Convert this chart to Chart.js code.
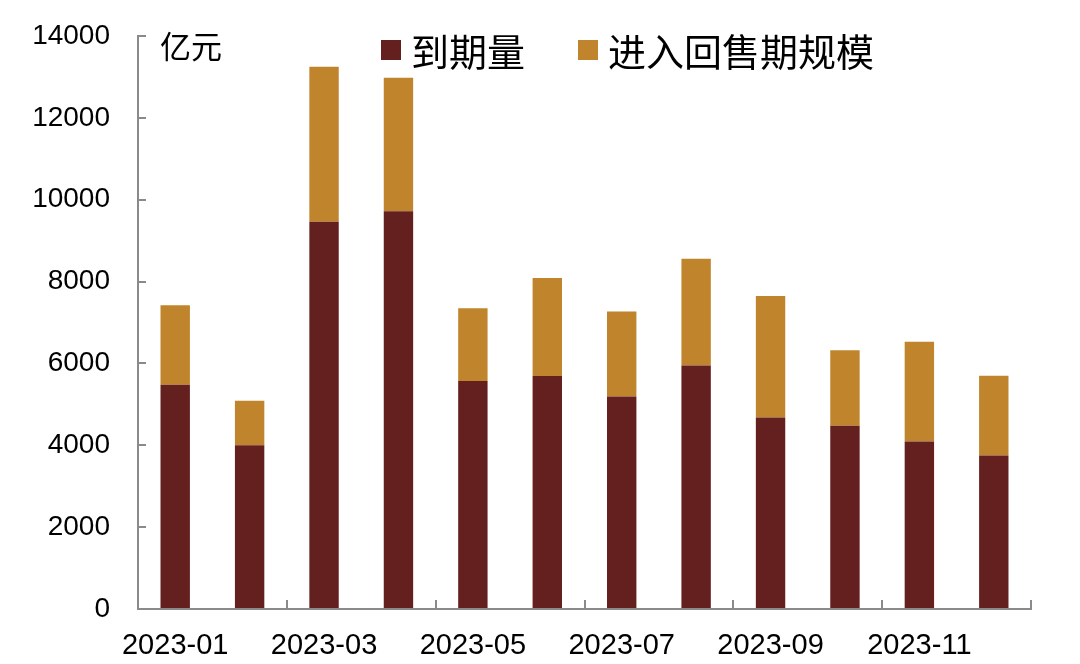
<!DOCTYPE html>
<html>
<head>
<meta charset="utf-8">
<script src="https://cdn.jsdelivr.net/npm/chart.js@4/dist/chart.umd.min.js"></script>
<style>
  html, body { margin: 0; padding: 0; background: #fff; }
  #wrap { position: relative; width: 1080px; height: 664px; }
  #legend { position: absolute; left: 0; top: 0; }
  .item { position: absolute; display: flex; align-items: center; white-space: nowrap;
          font-family: "Noto Sans CJK SC", sans-serif; font-size: 38px; color: #000; line-height: 1; }
  .box { display: inline-block; width: 20px; height: 20px; margin-right: 10px; }
  #unit { position: absolute; left: 160px; top: 29px; font-family: "Noto Sans CJK SC", sans-serif;
          font-size: 31px; line-height: 1; color: #000; }
</style>
</head>
<body>
<div id="wrap">
  <canvas id="bondChart" width="1080" height="664"></canvas>
  <div id="unit">亿元</div>
  <div id="legend"></div>
</div>
<script>
// chart data (亿元)
const months = ['2023-01', '2023-02', '2023-03', '2023-04', '2023-05', '2023-06',
                '2023-07', '2023-08', '2023-09', '2023-10', '2023-11', '2023-12'];
const seriesNames = ['到期量', '进入回售期规模'];
const maturity = [5480, 4000, 9460, 9720, 5570, 5690, 5190, 5950, 4680, 4480, 4090, 3750];
const putback  = [1940, 1090, 3790, 3260, 1780, 2400, 2080, 2610, 2970, 1840, 2440, 1950];
const yTicks = [0, 2000, 4000, 6000, 8000, 10000, 12000, 14000];

const COLORS = ['#63201f', '#c0842d'];
const AXIS = '#8a8a8a';

function buildLegend(datasets) {
  const el = document.getElementById('legend');
  const spots = [381, 578]; // left edge of each legend square
  datasets.forEach((ds, i) => {
    const item = document.createElement('div');
    item.className = 'item';
    item.style.left = spots[i] + 'px';
    item.style.top = '31px';
    item.innerHTML = '<span class="box" style="background:' + ds.backgroundColor + '"></span>' + ds.label;
    el.appendChild(item);
  });
}

function renderChart() {
  const ctx = document.getElementById('bondChart').getContext('2d');
  const datasets = [
    { label: seriesNames[0], data: maturity, backgroundColor: COLORS[0] },
    { label: seriesNames[1], data: putback, backgroundColor: COLORS[1] }
  ].map(d => Object.assign(d, { barPercentage: 0.395, categoryPercentage: 1, borderWidth: 0 }));

  new Chart(ctx, {
    type: 'bar',
    data: { labels: months, datasets: datasets },
    options: {
      responsive: false,
      animation: false,
      layout: { padding: { top: 36, right: 49, left: 0, bottom: 0 } },
      plugins: { legend: { display: false }, tooltip: { enabled: false } },
      scales: {
        x: {
          stacked: true,
          afterFit: s => { s.height = 55; },
          border: { color: AXIS, width: 2 },
          grid: {
            drawOnChartArea: false,
            tickLength: -9,
            lineWidth: 2,
            // tick mark only every second month (plus the closing one)
            color: c => (c.type !== 'tick' || c.index % 2 === 0) ? AXIS : 'rgba(0,0,0,0)'
          },
          ticks: {
            autoSkip: false,
            maxRotation: 0,
            padding: 29,
            color: '#000',
            font: { family: 'Liberation Sans', size: 29 },
            callback: function(v, i) { return i % 2 === 0 ? this.getLabelForValue(v) : ''; }
          }
        },
        y: {
          stacked: true,
          min: 0,
          max: 14000,
          // fixed width; drop the label overhang so the top padding decides the plot top
          afterFit: s => { s.width = 138; s.paddingTop = 0; s.paddingBottom = 0; },
          afterBuildTicks: s => { s.ticks = yTicks.map(v => ({ value: v })); },
          border: { color: AXIS, width: 2 },
          grid: { drawOnChartArea: false, tickLength: -8, lineWidth: 2, color: AXIS },
          ticks: {
            padding: 36,
            color: '#000',
            font: { family: 'Liberation Sans', size: 28 },
            callback: v => String(v)
          }
        }
      }
    }
  });

  buildLegend(datasets);
}

renderChart();
</script>
</body>
</html>
